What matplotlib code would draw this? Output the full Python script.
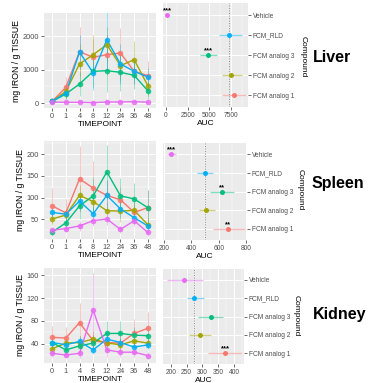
import numpy as np
import matplotlib
matplotlib.use("Agg")
import matplotlib.pyplot as plt

plt.rcParams["font.family"] = ["Liberation Sans", "DejaVu Sans"]

W, H = 379, 383

timepoints = ["0", "1", "4", "8", "12", "24", "36", "48"]
# ordered bottom to top on the AUC panels
compounds = ["FCM analog 1", "FCM analog 2", "FCM analog 3", "FCM_RLD", "Vehicle"]
colors = ["#F8766D", "#A3A500", "#00BF7D", "#00B0F6", "#E76BF3"]

# time courses: one row per compound (same order as `compounds`)
liver_mean = [
    [50, 470, 1540, 1370, 1450, 1500, 950, 820],
    [50, 350, 1170, 1450, 1750, 1120, 1300, 520],
    [50, 270, 570, 950, 970, 920, 830, 370],
    [50, 300, 1530, 900, 1900, 1170, 950, 780],
    [30, 20, 20, 10, 30, 30, 40, 25],
]
liver_sd = [
    [15, 300, 740, 550, 600, 740, 380, 450],
    [15, 220, 600, 580, 520, 450, 550, 300],
    [15, 150, 350, 480, 650, 560, 420, 250],
    [15, 120, 500, 500, 880, 600, 380, 270],
    [10, 10, 15, 10, 15, 15, 20, 15],
]
spleen_mean = [
    [81, 65, 143, 122, 105, 95, 66, 77],
    [51, 60, 105, 91, 70, 69, 71, 38],
    [21, 42, 81, 104, 159, 104, 97, 77],
    [66, 62, 92, 63, 105, 74, 54, 35],
    [25, 29, 35, 47, 51, 27, 47, 20],
]
spleen_sd = [
    [40, 32, 75, 62, 35, 30, 25, 40],
    [15, 15, 25, 20, 20, 25, 20, 15],
    [8, 12, 30, 40, 62, 40, 36, 40],
    [12, 12, 20, 15, 35, 20, 15, 10],
    [8, 8, 12, 12, 15, 8, 12, 8],
]
kidney_mean = [
    [51, 50, 77, 45, 42, 41, 58, 67],
    [31, 41, 42, 48, 41, 38, 45, 41],
    [42, 29, 36, 41, 58, 58, 55, 54],
    [42, 38, 44, 29, 48, 42, 34, 38],
    [23, 20, 23, 99, 29, 25, 25, 19],
]
kidney_sd = [
    [20, 19, 34, 12, 15, 15, 25, 28],
    [8, 10, 12, 15, 12, 10, 10, 8],
    [10, 8, 10, 12, 22, 22, 15, 15],
    [8, 8, 10, 8, 10, 8, 10, 8],
    [6, 6, 8, 65, 12, 8, 8, 6],
]

# AUC summaries (mean, lower, upper) in `compounds` order
liver_auc = [7850, 7500, 4850, 7300, 150]
liver_auc_lo = [6400, 6450, 3900, 6100, 60]
liver_auc_hi = [9250, 8750, 5900, 8750, 250]
liver_stars = ["", "", "***", "", "***"]

spleen_auc = [670, 505, 625, 497, 255]
spleen_auc_lo = [560, 455, 540, 441, 222]
spleen_auc_hi = [790, 570, 710, 555, 288]
spleen_stars = ["**", "", "**", "", "***"]

kidney_auc = [372, 293, 326, 274, 243]
kidney_auc_lo = [317, 257, 285, 250, 189]
kidney_auc_hi = [425, 326, 366, 304, 301]
kidney_stars = ["***", "", "", "", ""]

PANEL_BG = "#EBEBEB"
TICK_COL = "#4D4D4D"


def rect(x0, y0, x1, y1):
    return [x0 / W, 1 - y1 / H, (x1 - x0) / W, (y1 - y0) / H]


def style_axes(ax, labelsize):
    ax.set_facecolor(PANEL_BG)
    for s in ax.spines.values():
        s.set_visible(False)
    ax.tick_params(length=2, width=0.5, color="#333333", labelsize=labelsize,
                   labelcolor=TICK_COL, pad=1.5)
    ax.set_axisbelow(True)
    ax.grid(which="major", color="white", lw=0.7)
    ax.grid(which="minor", color="white", lw=0.35)
    ax.tick_params(which="minor", length=0)


def draw_timecourse(ax, means, sds, ylim, yticks, yminor):
    style_axes(ax, 5.3)
    x = np.arange(len(timepoints))
    for m, s, c in zip(means, sds, colors):
        m = np.array(m, dtype=float)
        s = np.array(s, dtype=float)
        ax.vlines(x, m - s, m + s, color=c, alpha=0.4, lw=0.7, zorder=2)
        ax.plot(x, m, color=c, lw=1.0, zorder=3)
        ax.plot(x, m, "o", color=c, ms=4.0, mec="none", alpha=0.85, zorder=4)
    ax.set_xlim(-0.6, len(timepoints) - 0.4)
    ax.set_xticks(x)
    ax.set_xticklabels(timepoints)
    ax.set_ylim(*ylim)
    ax.set_yticks(yticks)
    ax.set_yticks(yminor, minor=True)
    ax.set_xlabel("TIMEPOINT", fontsize=6, labelpad=0.5)
    ax.set_ylabel("mg IRON / g TISSUE", fontsize=6.3, labelpad=1.5)


def draw_auc(ax, auc, lo, hi, stars, xlim, xticks, xminor):
    style_axes(ax, 4.8)
    y = np.arange(1, len(compounds) + 1)
    ax.axvline(auc[3], color="#8C8C8C", ls=(0, (1, 1.6)), lw=0.7, zorder=2)
    for yi, a, l, h, c, st in zip(y, auc, lo, hi, colors, stars):
        ax.hlines(yi, l, h, color=c, alpha=0.5, lw=0.9, zorder=3)
        ax.plot(a, yi, "o", color=c, ms=3.6, mec="none", zorder=4)
        if st:
            ax.text(a, yi + 0.22, st, ha="center", va="center", fontsize=5.5,
                    fontweight="bold", color="black", zorder=5)
    ax.set_ylim(0.4, len(compounds) + 0.6)
    ax.set_yticks(y)
    ax.set_yticklabels(compounds)
    ax.yaxis.tick_right()
    ax.set_xlim(*xlim)
    ax.set_xticks(xticks)
    ax.set_xticks(xminor, minor=True)
    ax.set_xlabel("AUC", fontsize=6, labelpad=0.5)


fig = plt.figure(figsize=(W / 100, H / 100), dpi=100)
fig.patch.set_facecolor("white")

# Liver
ax = fig.add_axes(rect(44, 13, 156, 108))
draw_timecourse(ax, liver_mean, liver_sd, (-150, 2700), [0, 1000, 2000],
                [500, 1500, 2500])
ax = fig.add_axes(rect(163, 3, 248, 107))
draw_auc(ax, liver_auc, liver_auc_lo, liver_auc_hi, liver_stars,
         (-350, 9450), [0, 2500, 5000, 7500], [1250, 3750, 6250, 8750])

# Spleen
ax = fig.add_axes(rect(44, 141, 156, 239))
draw_timecourse(ax, spleen_mean, spleen_sd, (5, 230), [50, 100, 150, 200],
                [25, 75, 125, 175, 225])
ax = fig.add_axes(rect(163, 143, 247, 240))
draw_auc(ax, spleen_auc, spleen_auc_lo, spleen_auc_hi, spleen_stars,
         (193, 807), [200, 400, 600, 800], [300, 500, 700])

# Kidney
ax = fig.add_axes(rect(44, 268, 156, 363))
draw_timecourse(ax, kidney_mean, kidney_sd, (6, 173), [40, 80, 120, 160],
                [20, 60, 100, 140])
ax = fig.add_axes(rect(163, 269, 244, 364))
draw_auc(ax, kidney_auc, kidney_auc_lo, kidney_auc_hi, kidney_stars,
         (175, 432), [200, 250, 300, 350, 400], [225, 275, 325, 375, 425])

# right-hand labels
for (cx, cy) in [(303, 57), (300, 190), (296, 316)]:
    fig.text(cx / W, 1 - cy / H, "Compound", rotation=-90, ha="center",
             va="center", fontsize=6)
for name, (cx, cy) in [("Liver", (332, 57)), ("Spleen", (338, 184)),
                       ("Kidney", (340, 315))]:
    fig.text(cx / W, 1 - cy / H, name, ha="center", va="center",
             fontsize=11.5, fontweight="bold")

fig.savefig("out.png", dpi=100)
